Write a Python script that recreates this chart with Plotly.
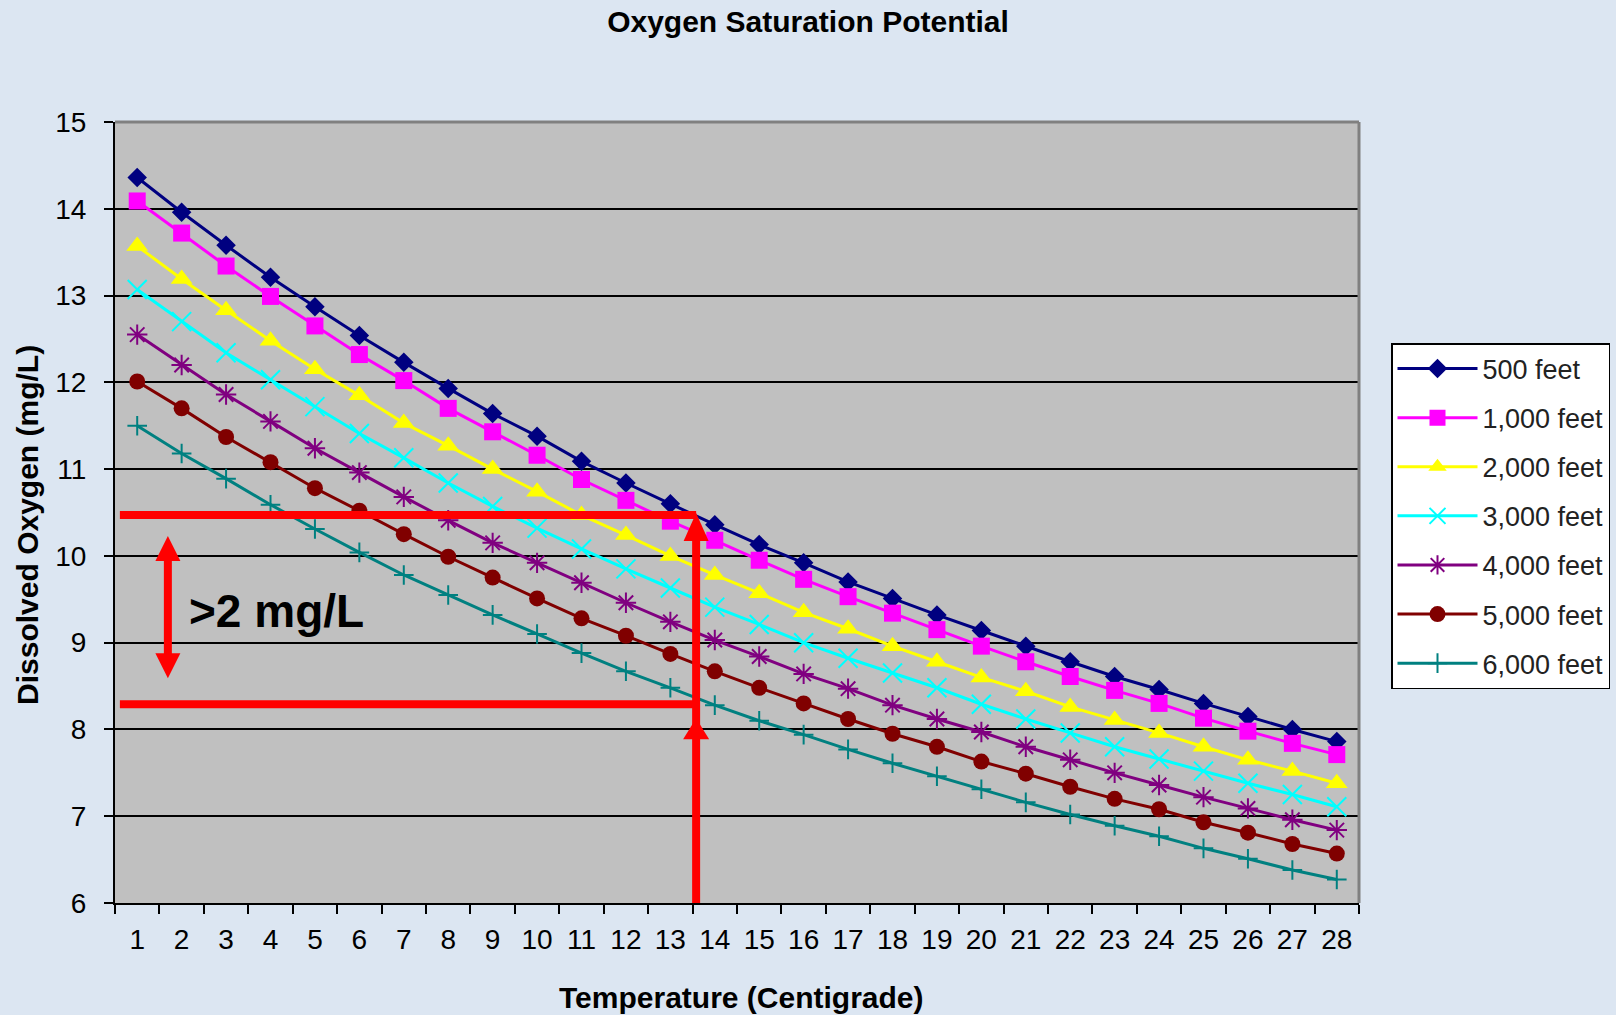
import plotly.graph_objects as go

# ---------------- data ----------------
temperature = list(range(1, 29))
tick_labels = [str(t) for t in temperature]

series_names = ["500 feet", "1,000 feet", "2,000 feet", "3,000 feet",
                "4,000 feet", "5,000 feet", "6,000 feet"]

do_500 = [14.36, 13.96, 13.58, 13.21, 12.87, 12.54, 12.23, 11.93, 11.64, 11.38,
          11.09, 10.84, 10.60, 10.36, 10.13, 9.92, 9.70, 9.51, 9.32, 9.14,
          8.96, 8.78, 8.61, 8.46, 8.30, 8.15, 8.00, 7.86]
do_1000 = [14.09, 13.72, 13.34, 12.99, 12.65, 12.32, 12.02, 11.70, 11.43, 11.16,
           10.88, 10.64, 10.40, 10.18, 9.95, 9.73, 9.53, 9.34, 9.15, 8.96,
           8.78, 8.61, 8.45, 8.30, 8.13, 7.98, 7.84, 7.71]
do_2000 = [13.57, 13.19, 12.83, 12.48, 12.15, 11.85, 11.53, 11.27, 11.00, 10.74,
           10.47, 10.24, 10.00, 9.78, 9.57, 9.35, 9.16, 8.96, 8.78, 8.60,
           8.44, 8.26, 8.11, 7.96, 7.80, 7.65, 7.52, 7.38]
do_3000 = [13.07, 12.70, 12.34, 12.03, 11.72, 11.41, 11.13, 10.84, 10.57, 10.32,
           10.08, 9.85, 9.63, 9.41, 9.21, 9.00, 8.82, 8.65, 8.48, 8.29,
           8.12, 7.96, 7.80, 7.66, 7.52, 7.38, 7.25, 7.11]
do_4000 = [12.55, 12.20, 11.86, 11.55, 11.24, 10.96, 10.68, 10.41, 10.15, 9.92,
           9.69, 9.46, 9.24, 9.03, 8.84, 8.64, 8.47, 8.28, 8.12, 7.97,
           7.80, 7.65, 7.50, 7.36, 7.22, 7.09, 6.96, 6.84]
do_5000 = [12.01, 11.70, 11.37, 11.08, 10.78, 10.52, 10.25, 9.99, 9.75, 9.51,
           9.28, 9.08, 8.87, 8.67, 8.48, 8.30, 8.12, 7.95, 7.80, 7.63,
           7.49, 7.34, 7.20, 7.08, 6.93, 6.81, 6.68, 6.57]
do_6000 = [11.50, 11.18, 10.89, 10.59, 10.31, 10.04, 9.78, 9.55, 9.32, 9.10,
           8.88, 8.67, 8.48, 8.28, 8.10, 7.94, 7.77, 7.61, 7.46, 7.31,
           7.16, 7.02, 6.89, 6.77, 6.63, 6.51, 6.38, 6.27]

series_values = [do_500, do_1000, do_2000, do_3000, do_4000, do_5000, do_6000]

# annotation reference values
ref_temp_x = 13.58       # vertical red arrow position
upper_do = 10.47         # upper red line
lower_do = 8.29          # lower red line
lower_arrow_tip = 8.13
gap_arrow_x = 1.69
gap_arrow_top = 10.23
gap_arrow_bottom = 8.59
gap_label = ">2 mg/L"

# ---------------- styles ----------------
FONT = "Liberation Sans, Arial, sans-serif"
colors = ["#000080", "#FF00FF", "#FFFF00", "#00FFFF", "#800080", "#800000", "#008080"]
symbols = ["diamond", "square", "triangle-up", "x-thin", "asterisk", "circle", "cross-thin"]
sizes = [15, 17, 19, 19, 17, 16, 14]
open_sym = [False, False, False, True, True, False, True]

fig = go.Figure()
for name, vals, c, s, sz, op in zip(series_names, series_values, colors, symbols, sizes, open_sym):
    fig.add_trace(go.Scatter(
        x=temperature, y=vals, name=name, legendgroup=name,
        mode="lines+markers",
        line=dict(color=c, width=3),
        marker=dict(symbol=s, size=sz, color=c,
                    line=dict(color=c, width=2 if op else 0)),
    ))

RED = "#FF0000"
shapes = [
    # plot frame top/right (gray)
    dict(type="line", xref="paper", yref="paper", x0=0, x1=1, y0=1, y1=1,
         line=dict(color="#808080", width=3), layer="above"),
    dict(type="line", xref="paper", yref="paper", x0=1, x1=1, y0=0, y1=1,
         line=dict(color="#808080", width=3), layer="above"),
    # red guide lines
    dict(type="line", xref="x", yref="y", x0=0.61, x1=ref_temp_x, y0=upper_do, y1=upper_do,
         line=dict(color=RED, width=8)),
    dict(type="line", xref="x", yref="y", x0=0.61, x1=ref_temp_x - 0.05, y0=lower_do, y1=lower_do,
         line=dict(color=RED, width=8)),
    dict(type="line", xref="x", yref="y", x0=ref_temp_x, x1=ref_temp_x, y0=6, y1=upper_do - 0.25,
         line=dict(color=RED, width=8)),
    # arrowheads on vertical arrow
    dict(type="path", xref="x", yref="y", xsizemode="pixel", ysizemode="pixel",
         xanchor=ref_temp_x, yanchor=upper_do, path="M0,2 L12.5,-26 L-12.5,-26 Z",
         fillcolor=RED, line=dict(width=0)),
    dict(type="path", xref="x", yref="y", xsizemode="pixel", ysizemode="pixel",
         xanchor=ref_temp_x, yanchor=lower_arrow_tip, path="M0,0 L13,-21 L-13,-21 Z",
         fillcolor=RED, line=dict(width=0)),
    # double arrow on the left
    dict(type="line", xref="x", yref="y", x0=gap_arrow_x, x1=gap_arrow_x,
         y0=gap_arrow_bottom + 0.2, y1=gap_arrow_top - 0.2,
         line=dict(color=RED, width=8)),
    dict(type="path", xref="x", yref="y", xsizemode="pixel", ysizemode="pixel",
         xanchor=gap_arrow_x, yanchor=gap_arrow_top, path="M0,0 L12.5,-25 L-12.5,-25 Z",
         fillcolor=RED, line=dict(width=0)),
    dict(type="path", xref="x", yref="y", xsizemode="pixel", ysizemode="pixel",
         xanchor=gap_arrow_x, yanchor=gap_arrow_bottom, path="M0,0 L12.5,25 L-12.5,25 Z",
         fillcolor=RED, line=dict(width=0)),
]

annotations = [
    dict(text=gap_label, xref="x", yref="y", x=2.12, y=9.36, xanchor="left", yanchor="middle",
         showarrow=False, font=dict(family=FONT, size=46, color="black", weight="bold")),
    dict(text="Dissolved Oxygen (mg/L)", xref="paper", yref="paper", x=-0.070, y=0.484,
         textangle=-90, xanchor="center", yanchor="middle", showarrow=False,
         font=dict(family=FONT, size=30, color="black", weight="bold")),
    dict(text="Temperature (Centigrade)", xref="paper", yref="paper", x=0.504, y=-0.1216,
         xanchor="center", yanchor="middle", showarrow=False,
         font=dict(family=FONT, size=30, color="black", weight="bold")),
]

fig.update_layout(
    width=1616, height=1015,
    paper_bgcolor="#DCE6F2",
    plot_bgcolor="#C0C0C0",
    margin=dict(l=115, r=257, t=122, b=112, autoexpand=False),
    title=dict(text="Oxygen Saturation Potential", x=0.5, xref="container", xanchor="center",
               y=1 - 21 / 1015, yref="container", yanchor="middle",
               font=dict(family=FONT, size=30, color="black", weight="bold")),
    showlegend=True,
    legend=dict(xref="container", yref="container", x=1391 / 1616, y=1 - 343 / 1015,
                xanchor="left", yanchor="top",
                bgcolor="white", bordercolor="black", borderwidth=1.5,
                font=dict(family=FONT, size=27, color="#222222"),
                tracegroupgap=11, itemsizing="trace", itemwidth=80),
    shapes=shapes,
    annotations=annotations,
    xaxis=dict(
        range=[0.5, 28.5], tickmode="array", tickvals=temperature, ticktext=tick_labels,
        ticks="", showgrid=False, zeroline=False,
        showline=True, linecolor="black", linewidth=2,
        tickfont=dict(family=FONT, size=28, color="black"),
        ticklabelstandoff=10,
        minor=dict(tickmode="array", tickvals=[t - 0.5 for t in temperature] + [28.5],
                   ticks="outside", ticklen=9, tickwidth=1.5, tickcolor="black"),
    ),
    yaxis=dict(
        range=[6, 15], dtick=1, tick0=6,
        showgrid=True, gridcolor="black", gridwidth=1.5, zeroline=False,
        showline=True, linecolor="black", linewidth=2,
        ticks="outside", ticklen=9, tickwidth=1.5, tickcolor="black",
        tickfont=dict(family=FONT, size=28, color="black"),
        ticklabelstandoff=12,
    ),
)

fig.write_html(
    "out.html",
    config={"displayModeBar": False},
    post_script="document.body.style.margin='0';document.body.style.background='#DCE6F2';",
)
